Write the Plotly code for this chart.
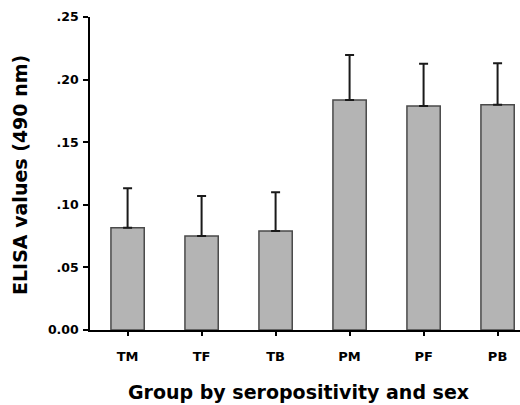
import plotly.graph_objects as go

groups = ["TM", "TF", "TB", "PM", "PF", "PB"]
means = [0.0817, 0.0751, 0.0791, 0.1837, 0.1790, 0.1800]
errors = [0.0315, 0.0320, 0.0310, 0.0360, 0.0337, 0.0330]
y_tickvals = [0.0, 0.05, 0.10, 0.15, 0.20, 0.25]
y_ticktext = ["0.00", ".05", ".10", ".15", ".20", ".25"]

FONT = "DejaVu Sans"

fig = go.Figure()
fig.add_trace(go.Bar(
    x=list(range(len(groups))),
    y=means,
    width=0.45,
    marker=dict(color="#b4b4b4", line=dict(color="#4a4a4a", width=1.5)),
    error_y=dict(type="data", array=errors, arrayminus=[0]*len(errors),
                 symmetric=False, color="#1a1a1a", thickness=2, width=4.5),
    hoverinfo="skip",
))

fig.update_layout(
    width=520, height=405,
    margin=dict(l=90, r=0, t=17, b=75),
    plot_bgcolor="white", paper_bgcolor="white",
    showlegend=False,
    font=dict(family=FONT, color="black"),
    xaxis=dict(
        range=[-0.508, 5.303],
        tickvals=list(range(len(groups))),
        ticktext=groups,
        ticks="outside", ticklen=4, tickwidth=1.5, tickcolor="black",
        showline=True, linecolor="black", linewidth=1.5,
        showgrid=False, zeroline=False,
        tickfont=dict(family=FONT, size=13, color="black", weight="bold"),
        ticklabelstandoff=10,
    ),
    yaxis=dict(
        range=[0, 0.25],
        tickvals=y_tickvals,
        ticktext=y_ticktext,
        ticks="outside", ticklen=5, tickwidth=1.5, tickcolor="black",
        showline=True, linecolor="black", linewidth=1.5,
        showgrid=False, zeroline=False,
        tickfont=dict(family=FONT, size=12.5, color="black", weight="bold"),
        ticklabelstandoff=2,
    ),
    annotations=[
        dict(text="ELISA values (490 nm)", xref="paper", yref="paper",
             x=(20 - 90) / 430, y=(330 - 175) / 313, textangle=-90,
             showarrow=False, xanchor="center", yanchor="middle",
             font=dict(family=FONT, size=19, color="black", weight="bold")),
        dict(text="Group by seropositivity and sex", xref="paper", yref="paper",
             x=(298 - 90) / 430, y=(330 - 392) / 313,
             showarrow=False, xanchor="center", yanchor="middle",
             font=dict(family=FONT, size=19, color="black", weight="bold")),
    ],
)

fig.write_html(
    "out.html",
    config={"displayModeBar": False},
    post_script="document.body.style.margin='0';document.body.style.overflow='hidden';",
)
